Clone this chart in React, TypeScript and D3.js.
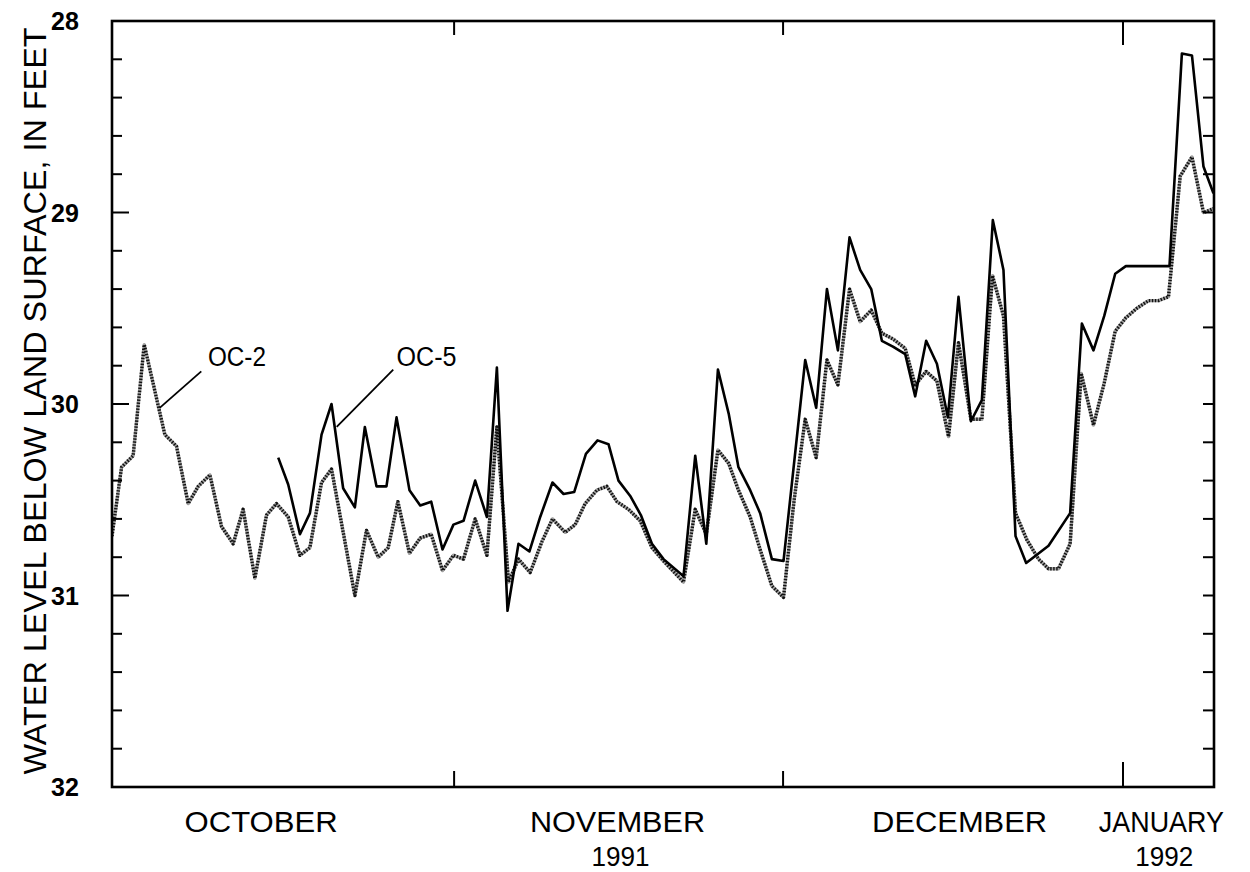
import React from 'react';
import * as d3 from 'd3';

// days counted from Oct 1, 1991 00:00 (fractional = time of reading)
const oc2Day = [
  -0.2, 0.67, 1.73, 2.74, 4.62, 5.68, 6.75, 7.66, 8.73, 9.79, 10.85, 11.76, 12.83, 13.89, 14.8, 15.87,
  16.94, 17.85, 18.91, 19.82, 21.95, 23.01, 24.08, 24.99, 25.87, 26.93, 27.91, 28.91, 29.94, 30.94,
  31.86, 32.92, 33.99, 34.9, 35.96, 36.87, 37.94, 39.0, 39.97, 41.13, 42.04, 42.95, 44.02, 44.93,
  45.85, 46.9, 47.97, 49.04, 50.1, 51.92, 52.99, 54.0, 55.06, 56.04, 56.93, 58.0, 58.91, 59.98,
  61.04, 62.01, 63.02, 64.02, 65.0, 66.0, 67.06, 68.03, 69.04, 70.01, 71.02, 72.14, 73.05, 74.05,
  75.03, 76.09, 77.0, 78.13, 79.13, 80.1, 81.1, 82.2, 83.24, 84.3, 85.21, 86.12, 87.18, 88.19,
  89.31, 90.29, 91.29, 92.26, 93.27, 94.33, 95.24, 96.15, 97.22, 98.29, 99.34, 100.25,
];
const oc2Level = [
  30.69, 30.33, 30.27, 29.69, 30.16, 30.22, 30.52, 30.43, 30.37, 30.64, 30.73, 30.55, 30.91, 30.58, 30.52, 30.59,
  30.79, 30.75, 30.41, 30.34, 31.0, 30.66, 30.8, 30.75, 30.51, 30.78, 30.7, 30.68, 30.87, 30.79,
  30.81, 30.6, 30.79, 30.12, 30.93, 30.81, 30.88, 30.72, 30.6, 30.67, 30.63, 30.52, 30.45, 30.43,
  30.51, 30.55, 30.61, 30.75, 30.82, 30.93, 30.55, 30.68, 30.24, 30.31, 30.45, 30.59, 30.76, 30.95,
  31.01, 30.5, 30.08, 30.28, 29.77, 29.9, 29.4, 29.57, 29.51, 29.63, 29.66, 29.71, 29.9, 29.83,
  29.88, 30.17, 29.68, 30.08, 30.08, 29.33, 29.54, 30.57, 30.71, 30.81, 30.86, 30.86, 30.73, 29.84,
  30.11, 29.89, 29.62, 29.55, 29.5, 29.46, 29.46, 29.44, 28.81, 28.71, 29.0, 28.98,
];

const oc5Day = [
  14.96, 15.87, 16.94, 17.85, 18.91, 19.82, 20.88, 21.95, 22.86, 23.92, 24.83, 25.75, 26.93, 27.91,
  28.91, 29.94, 30.94, 31.86, 32.92, 33.99, 34.9, 35.87, 36.87, 37.87, 38.85, 39.97, 40.98, 41.95,
  43.02, 44.08, 45.08, 45.99, 47.06, 48.03, 49.04, 50.1, 51.92, 52.99, 54.0, 55.06, 56.04, 56.93,
  58.0, 58.91, 59.98, 61.04, 63.02, 64.02, 65.0, 66.0, 67.06, 68.03, 69.04, 70.01, 71.02, 72.14,
  73.05, 74.05, 75.03, 76.03, 77.0, 78.13, 79.13, 80.13, 81.1, 82.2, 83.17, 85.21, 87.18, 88.25,
  89.31, 90.29, 91.29, 92.26, 96.24, 97.37, 98.29, 99.34, 100.25,
];
const oc5Level = [
  30.28, 30.42, 30.68, 30.57, 30.16, 30.0, 30.44, 30.54, 30.12, 30.43, 30.43, 30.07, 30.45, 30.53,
  30.51, 30.76, 30.63, 30.61, 30.4, 30.59, 29.81, 31.08, 30.73, 30.77, 30.59, 30.41, 30.47, 30.46,
  30.26, 30.19, 30.21, 30.4, 30.48, 30.58, 30.73, 30.81, 30.9, 30.27, 30.73, 29.82, 30.05, 30.33,
  30.45, 30.57, 30.81, 30.82, 29.77, 30.02, 29.4, 29.72, 29.13, 29.3, 29.4, 29.67, 29.7, 29.74,
  29.96, 29.67, 29.79, 30.07, 29.44, 30.09, 29.98, 29.04, 29.3, 30.69, 30.83, 30.74, 30.57, 29.58,
  29.72, 29.54, 29.32, 29.28, 29.28, 28.17, 28.18, 28.76, 28.9,
];

const levelLabels = [28, 29, 30, 31, 32];
const monthNames = ['OCTOBER', 'NOVEMBER', 'DECEMBER', 'JANUARY'];
const monthLabelDay = [13.4, 45.9, 77.1, 95.5];
const yearNames = ['', '1991', '', '1992'];

const W = 1250;
const H = 872;
const FONT = '"Liberation Sans", Arial, Helvetica, sans-serif';
const start = Date.UTC(1991, 9, 1);
const toDate = (d: number) => new Date(start + d * 864e5);

const monthWidth: Record<string, number> = { OCTOBER: 153, NOVEMBER: 175, DECEMBER: 175, JANUARY: 125 };

const App: React.FC = () => {
  const x = d3.scaleUtc().domain([toDate(-0.2), toDate(100.3)]).range([112, 1214]);
  const y = d3.scaleLinear().domain([28, 32]).range([21, 787]);
  const [x0, x1] = x.range();
  const [y0, y1] = y.range();

  const line = d3.line<[number, number]>()
    .x(d => x(toDate(d[0])))
    .y(d => y(d[1]));

  const oc2 = line(oc2Day.map((d, i) => [d, oc2Level[i]]) as [number, number][]) || '';
  const oc5 = line(oc5Day.map((d, i) => [d, oc5Level[i]]) as [number, number][]) || '';

  const minor = y.ticks(20);
  const monthStarts = d3.utcMonth.range(toDate(1), toDate(100.3));

  // leader lines, in data units
  const p = (day: number, lvl: number) => [x(toDate(day)), y(lvl)];
  const [a1x, a1y] = p(4.15, 30.02);
  const [a2x, a2y] = p(7.94, 29.83);
  const [b1x, b1y] = p(20.29, 30.12);
  const [b2x, b2y] = p(25.45, 29.82);
  const [t1x, t1y] = p(8.55, 29.8);
  const [t2x, t2y] = p(25.75, 29.8);

  return (
    <svg width={W} height={H} style={{ position: 'absolute', left: 0, top: 0, background: '#fff' }}>
      <defs>
        <clipPath id="plot">
          <rect x={x0} y={y0} width={x1 - x0} height={y1 - y0} />
        </clipPath>
      </defs>
      <rect width={W} height={H} fill="#fff" />

      {/* Series */}
      <g clipPath="url(#plot)" fill="none" strokeLinejoin="round">
        <path d={oc2} stroke="#a0a0a0" strokeWidth={3.4} />
        <path d={oc2} stroke="#111" strokeWidth={3.4} strokeDasharray="1.4 1.6" />
        <path d={oc5} stroke="#000" strokeWidth={2.6} />
      </g>

      {/* Frame */}
      <rect x={x0} y={y0} width={x1 - x0} height={y1 - y0} fill="none" stroke="#000" strokeWidth={2.6} />

      {/* Y ticks */}
      {minor.map(v => {
        const major = Number.isInteger(v);
        if (v === 28 || v === 32) return null;
        return (
          <g key={v} stroke="#000" strokeWidth={2}>
            <line x1={x0} x2={x0 + (major ? 17 : 10)} y1={y(v)} y2={y(v)} />
            <line x1={x1} x2={x1 - 11} y1={y(v)} y2={y(v)} />
          </g>
        );
      })}

      {/* Month boundary ticks */}
      {monthStarts.map((m, i) => {
        const isYear = m.getUTCMonth() === 0;
        return (
          <g key={i} stroke="#000" strokeWidth={2}>
            <line x1={x(m)} x2={x(m)} y1={y1} y2={y1 - (isYear ? 25 : 16)} />
            <line x1={x(m)} x2={x(m)} y1={y0} y2={y0 + (isYear ? 24 : 14)} />
          </g>
        );
      })}

      {/* Y labels */}
      {levelLabels.map(v => (
        <text key={v} x={65} y={y(v)} dy="0.36em" textAnchor="middle" fontFamily={FONT}
          fontSize={25} fontWeight="bold" fill="#000">{v}</text>
      ))}

      <text transform="rotate(-90)" x={-(y0 + y1) / 2 + 3} y={46} textAnchor="middle" fontFamily={FONT}
        fontSize={31} fill="#000" textLength={747} lengthAdjust="spacingAndGlyphs">
        WATER LEVEL BELOW LAND SURFACE, IN FEET
      </text>

      {/* Month / year labels */}
      {monthNames.map((m, i) => (
        <g key={m}>
          <text x={x(toDate(monthLabelDay[i]))} y={832} textAnchor="middle" fontFamily={FONT}
            fontSize={30} fill="#000" textLength={monthWidth[m]} lengthAdjust="spacingAndGlyphs">{m}</text>
          {yearNames[i] && (
            <text x={x(toDate(monthLabelDay[i])) + 3} y={866} textAnchor="middle" fontFamily={FONT}
              fontSize={28} fill="#000" textLength={58} lengthAdjust="spacingAndGlyphs">{yearNames[i]}</text>
          )}
        </g>
      ))}

      {/* Series labels */}
      <line x1={a1x} y1={a1y} x2={a2x} y2={a2y} stroke="#000" strokeWidth={1.8} />
      <line x1={b1x} y1={b1y} x2={b2x} y2={b2y} stroke="#000" strokeWidth={1.8} />
      <text x={t1x} y={t1y} fontFamily={FONT} fontSize={27} fill="#000" textLength={58}
        lengthAdjust="spacingAndGlyphs">OC-2</text>
      <text x={t2x} y={t2y} fontFamily={FONT} fontSize={27} fill="#000" textLength={60}
        lengthAdjust="spacingAndGlyphs">OC-5</text>
    </svg>
  );
};

export default App;
